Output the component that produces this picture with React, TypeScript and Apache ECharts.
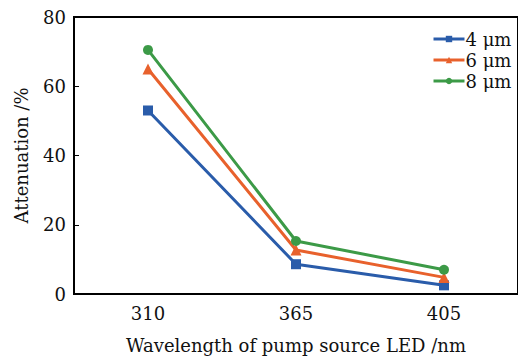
import React, { useEffect, useRef } from "react";
import * as echarts from "echarts";

const categories = ["310", "365", "405"];
const s4 = [53.0, 8.6, 2.5];
const s6 = [65.0, 12.7, 4.8];
const s8 = [70.5, 15.3, 7.0];
const seriesNames = ["4 μm", "6 μm", "8 μm"];
const yTicks = { min: 0, max: 80, interval: 20 };

const FONT = "DejaVu Serif";

export default function App() {
  const ref = useRef<HTMLDivElement>(null);
  useEffect(() => {
    const chart = echarts.init(ref.current!, undefined, { renderer: "svg" });
    const mk = (name: string, data: number[], color: string, symbol: string, size: number) => ({
      name,
      type: "line",
      data,
      symbol,
      symbolSize: size,
      showSymbol: true,
      lineStyle: { color, width: 3 },
      itemStyle: { color },
    });
    chart.setOption({
      animation: false,
      backgroundColor: "#fff",
      textStyle: { fontFamily: FONT },
      grid: {
        left: 74,
        right: -1,
        top: 17,
        bottom: 64,
        show: true,
        borderColor: "#000",
        borderWidth: 2,
        backgroundColor: "transparent",
      },
      legend: {
        left: 427,
        top: 25,
        orient: "vertical",
        itemWidth: 31,
        itemHeight: 8,
        itemGap: 3,
        lineStyle: { width: 3 },
        textStyle: { fontFamily: FONT, fontSize: 18, color: "#111", padding: [0, 0, 0, -4] },
        data: seriesNames,
      },
      xAxis: {
        type: "category",
        data: categories,
        boundaryGap: true,
        name: "Wavelength of pump source LED /nm",
        nameLocation: "middle",
        nameGap: 42,
        nameTextStyle: { fontFamily: FONT, fontSize: 18, color: "#111" },
        axisLine: { lineStyle: { color: "#000", width: 2 } },
        axisTick: { inside: true, length: 5, lineStyle: { color: "#000", width: 1 } },
        axisLabel: { fontFamily: FONT, fontSize: 18, color: "#111", margin: 10 },
        splitLine: { show: false },
      },
      yAxis: {
        type: "value",
        min: yTicks.min,
        max: yTicks.max,
        interval: yTicks.interval,
        name: "Attenuation /%",
        nameLocation: "middle",
        nameGap: 44,
        nameTextStyle: { fontFamily: FONT, fontSize: 18, color: "#111" },
        axisLine: { show: true, lineStyle: { color: "#000", width: 2 } },
        axisTick: { show: true, inside: true, length: 5, lineStyle: { color: "#000", width: 1 } },
        axisLabel: { fontFamily: FONT, fontSize: 18, color: "#111", margin: 8 },
        splitLine: { show: false },
      },
      series: [
        mk(seriesNames[0], s4, "#2a5caa", "rect", 10),
        mk(seriesNames[1], s6, "#e8612c", "triangle", 11),
        mk(seriesNames[2], s8, "#3c9a47", "circle", 10),
      ],
    });
    return () => chart.dispose();
  }, []);
  return <div ref={ref} style={{ width: 518, height: 359, position: "absolute", left: 0, top: 0 }} />;
}
